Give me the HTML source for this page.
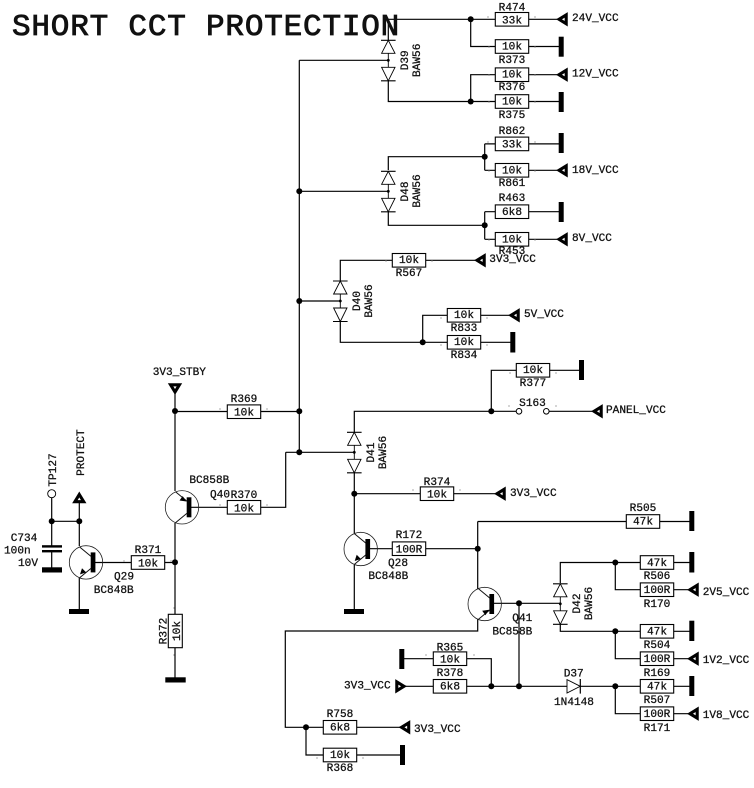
<!DOCTYPE html>
<html><head><meta charset="utf-8"><style>
html,body{margin:0;padding:0;background:#fff}
svg{display:block}
text{font-family:"Liberation Mono",monospace;font-size:11.1px;fill:#111;stroke:#111;stroke-width:.28}
.m{text-anchor:middle}
.w{fill:none;stroke:#000;stroke-width:1.2}
</style></head><body>
<svg xmlns="http://www.w3.org/2000/svg" width="754" height="788" viewBox="0 0 754 788">
<defs>
<rect id="r" x="0" y="-6.8" width="33.4" height="13.6" fill="#fff" stroke="#000" stroke-width="1.1"/>
<polygon id="al" points="3,0 10.2,-4.4 10.2,4.4" fill="#fff" stroke="#000" stroke-width="3.1"/>
<g id="d" fill="#fff" stroke="#000" stroke-width=".9">
<path d="M0-20V20.5"/>
<path d="M-7.3-20H7.3M-7.3 20.5H7.3" stroke-width="1.1"/>
<polygon points="0,-20 -6.7,-7 6.7,-7"/>
<polygon points="0,20.5 -6.7,7 6.7,7"/>
<circle cx="0" cy="0" r="1" fill="#000"/>
</g>
<g id="npn">
<circle r="16.7" fill="none" stroke="#222" stroke-width=".8"/>
<rect x="4.7" y="-10" width="4.7" height="20" fill="#000"/>
<path d="M-6.5-15.5L5-6M-6.5 15.5L5 6" fill="none" stroke="#111" stroke-width="1"/>
<polygon points="-6,12 -4,5.8 0.2,10" fill="#000"/>
</g>
<g id="pnp">
<circle r="16.7" fill="none" stroke="#222" stroke-width=".8"/>
<rect x="4.7" y="-10" width="4.7" height="20" fill="#000"/>
<path d="M-6.5-15.5L5-6M-6.5 15.5L5 6" fill="none" stroke="#111" stroke-width="1"/>
<polygon points="4.5,5.8 -2.5,6.8 0.7,11.2" fill="#000"/>
</g>
</defs>

<!-- wires -->
<path class="w" d="M388.3 19.3H557M528.7 19.3H557M470.7 19.3V46.5H495M528.7 46.5H559
M299.3 60.3H388.3M388.3 19.3V40M388.3 81V101.5H495M528.7 101.5H559M470.7 101.5V74.7H495M528.7 74.7H557
M299.3 60.3V452.3M299.3 191.3H388.3
M388.3 170V156.7H484.7M484.7 143.9V170.3M484.7 143.9H495M484.7 170.3H495M528.7 143.9H559M528.7 170.3H557
M388.3 211V225.3H484.7M484.7 211.7V239.3M484.7 211.7H495M484.7 239.3H495M528.7 211.7H559M528.7 239.3H557
M340.3 281V260.3H392M425.7 260.3H475
M299.3 301H340.3M340.3 321V342.3H447M422.7 342.3V315.3H447M480.7 315.3H509M480.7 342.3H511
M491.3 411.3V370.3H516M549.7 370.3H580
M354.3 432V411.3H516M549 411.3H592
M260.7 411.5H299.3
M354.3 473V533
M285.7 452.3H354.3M285.7 452.3V507.3H260.7
M354.3 493.7H420M453.7 493.7H495
M354.3 565V611
M370 548.7H392M425.7 548.7H477.7
M477.7 521.5H626M659.7 521.5H690M477.7 521.5V589
M477.7 619V631H285.3V727.3H323M356.7 727.3H400
M306 727.3V755H323M356.7 755H401
M492 603.3H560.3M519 603.3V686.3
M560.3 583V562.5H640M673.7 562.5H690M615.3 562.5V589.7H640M673.7 589.7H688
M560.3 624V631.3H640M673.7 631.3H690M615.3 631.3V658.7H640M673.7 658.7H688
M466.7 686.3H640M673.7 686.3H690M615.3 686.3V713.7H640M673.7 713.7H688
M404 658.7H433M466.7 658.7H491.3V686.3
M405 686.3H433
M175 394V491M175 523V678M175 411.5H227
M190 507.3H227
M95 562.5H131M164.7 562.5H175
M79.3 503V546M79.3 578V610M51.7 498V546M51.7 551V568M51.7 521.3H79.3"/>

<!-- ground bars -->
<g fill="#000">
<rect x="558.7" y="36.7" width="5" height="20"/>
<rect x="558.7" y="92" width="5" height="20"/>
<rect x="558.7" y="133" width="5" height="20"/>
<rect x="558.7" y="202" width="5" height="20"/>
<rect x="510.3" y="332" width="5" height="20.5"/>
<rect x="579" y="360" width="5" height="20"/>
<rect x="689.3" y="511" width="5" height="20"/>
<rect x="689.3" y="552" width="5" height="20.5"/>
<rect x="689.3" y="620.7" width="5" height="20.3"/>
<rect x="689.3" y="676" width="5" height="20"/>
<rect x="399.3" y="649" width="5" height="20"/>
<rect x="400" y="745" width="5" height="20"/>
<rect x="344" y="609" width="20" height="5"/>
<rect x="165.3" y="677.3" width="20.4" height="5.2"/>
<rect x="69" y="609" width="20" height="5"/>
<rect x="42" y="567.3" width="20" height="5.2"/>
<rect x="42" y="545.2" width="20" height="2.4"/>
<rect x="42" y="550" width="20" height="2.4"/>
</g>

<!-- junctions -->
<g fill="#000">
<circle cx="470.7" cy="19.3" r="3"/><circle cx="470.7" cy="101.5" r="3"/>
<circle cx="484.7" cy="156.7" r="3"/><circle cx="484.7" cy="225.3" r="3"/>
<circle cx="299.3" cy="191.3" r="3"/><circle cx="299.3" cy="301" r="3"/>
<circle cx="299.3" cy="411.3" r="3"/><circle cx="299.3" cy="452.3" r="3"/>
<circle cx="422.7" cy="342.3" r="3"/><circle cx="491.3" cy="411.3" r="3"/>
<circle cx="354.3" cy="493.7" r="3"/><circle cx="477.7" cy="548.7" r="3"/>
<circle cx="519" cy="603.3" r="3"/><circle cx="615.3" cy="562.5" r="3"/>
<circle cx="615.3" cy="631.3" r="3"/><circle cx="615.3" cy="686.3" r="3"/>
<circle cx="491.3" cy="686.3" r="3"/><circle cx="519" cy="686.3" r="3"/>
<circle cx="306" cy="727.3" r="3"/><circle cx="175" cy="411" r="3"/>
<circle cx="175" cy="562.3" r="3"/><circle cx="51.7" cy="521.3" r="3"/>
<circle cx="79.3" cy="521.3" r="3"/>
</g>

<!-- switch & test point -->
<circle cx="519" cy="411.3" r="2.8" fill="#fff" stroke="#000"/>
<circle cx="546.3" cy="411.3" r="2.8" fill="#fff" stroke="#000"/>
<circle cx="51.7" cy="493.7" r="4" fill="#fff" stroke="#000" stroke-width=".9"/>

<!-- diodes -->
<use href="#d" x="388.3" y="60.3"/>
<use href="#d" x="388.3" y="191.3"/>
<use href="#d" x="340.3" y="301"/>
<use href="#d" x="354.3" y="452.3"/>
<use href="#d" x="560.3" y="603.8"/>
<g fill="#fff" stroke="#000" stroke-width=".9"><polygon points="580.3,686.3 567,679.6 567,693"/><path d="M580.3 679V693.6" stroke-width="1.2"/></g>

<!-- transistors -->
<use href="#npn" x="86" y="562.4"/>
<use href="#npn" x="360.7" y="549"/>
<use href="#pnp" x="484.7" y="604"/>
<g transform="translate(182 507.3) scale(1 -1)"><use href="#pnp"/></g>

<!-- arrows -->
<use href="#al" x="556" y="19.3"/><use href="#al" x="556" y="74.7"/>
<use href="#al" x="556" y="170.3"/><use href="#al" x="556" y="239.3"/>
<use href="#al" x="474" y="260.3"/><use href="#al" x="508" y="315.3"/>
<use href="#al" x="591" y="411.3"/><use href="#al" x="494" y="493.7"/>
<use href="#al" x="687" y="589.7"/><use href="#al" x="687" y="658.7"/>
<use href="#al" x="687" y="713.7"/><use href="#al" x="398.5" y="727.3"/>
<g transform="translate(407 686.3) scale(-1 1)"><use href="#al"/></g>
<g transform="translate(175 395) rotate(-90)"><use href="#al"/></g>
<g transform="translate(79.3 491.5) rotate(90)"><use href="#al"/></g>

<!-- resistors -->
<g transform="translate(495.3 19.3)"><use href="#r"/><text class="m" x="16.7" y="4.2">33k</text></g>
<g transform="translate(495.3 46.5)"><use href="#r"/><text class="m" x="16.7" y="3">10k</text></g>
<g transform="translate(495.3 74.7)"><use href="#r"/><text class="m" x="16.7" y="3">10k</text></g>
<g transform="translate(495.3 101.5)"><use href="#r"/><text class="m" x="16.7" y="3">10k</text></g>
<g transform="translate(495.3 143.9)"><use href="#r"/><text class="m" x="16.7" y="3.6">33k</text></g>
<g transform="translate(495.3 170.3)"><use href="#r"/><text class="m" x="16.7" y="3">10k</text></g>
<g transform="translate(495.3 211.7)"><use href="#r"/><text class="m" x="16.7" y="3.4">6k8</text></g>
<g transform="translate(495.3 239.3)"><use href="#r"/><text class="m" x="16.7" y="3">10k</text></g>
<g transform="translate(392.3 260.3)"><use href="#r"/><text class="m" x="16.7" y="2.8">10k</text></g>
<g transform="translate(447.3 315.3)"><use href="#r"/><text class="m" x="16.7" y="2.8">10k</text></g>
<g transform="translate(447.3 342.3)"><use href="#r"/><text class="m" x="16.7" y="2.8">10k</text></g>
<g transform="translate(516.3 370.3)"><use href="#r"/><text class="m" x="16.7" y="2.8">10k</text></g>
<g transform="translate(227.3 411.7)"><use href="#r"/><text class="m" x="16.7" y="4">10k</text></g>
<g transform="translate(227.3 507.3)"><use href="#r"/><text class="m" x="16.7" y="4">10k</text></g>
<g transform="translate(131.3 562.5)"><use href="#r"/><text class="m" x="16.7" y="4">10k</text></g>
<g transform="translate(420.3 493.7)"><use href="#r"/><text class="m" x="16.7" y="4">10k</text></g>
<g transform="translate(392.3 548.7)"><use href="#r"/><text class="m" x="16.7" y="3.6">100R</text></g>
<g transform="translate(626.3 521.5)"><use href="#r"/><text class="m" x="16.7" y="3">47k</text></g>
<g transform="translate(640.3 562.5)"><use href="#r"/><text class="m" x="16.7" y="3.4">47k</text></g>
<g transform="translate(640.3 589.7)"><use href="#r"/><text class="m" x="16.7" y="3.4">100R</text></g>
<g transform="translate(640.3 631.3)"><use href="#r"/><text class="m" x="16.7" y="3">47k</text></g>
<g transform="translate(640.3 658.7)"><use href="#r"/><text class="m" x="16.7" y="3.4">100R</text></g>
<g transform="translate(640.3 686.3)"><use href="#r"/><text class="m" x="16.7" y="3">47k</text></g>
<g transform="translate(640.3 713.7)"><use href="#r"/><text class="m" x="16.7" y="3.4">100R</text></g>
<g transform="translate(433.3 658.7)"><use href="#r"/><text class="m" x="16.7" y="3.6">10k</text></g>
<g transform="translate(433.3 686.3)"><use href="#r"/><text class="m" x="16.7" y="3.2">6k8</text></g>
<g transform="translate(323.3 727.3)"><use href="#r"/><text class="m" x="16.7" y="3.4">6k8</text></g>
<g transform="translate(323.3 755)"><use href="#r"/><text class="m" x="16.7" y="2.8">10k</text></g>
<g transform="translate(175.3 631) rotate(-90)"><rect x="-16.7" y="-7" width="33.4" height="14" fill="#fff" stroke="#000" stroke-width="1.1"/><text class="m" x="0" y="4.8">10k</text></g>

<!-- pin marks -->
<path fill="none" stroke="#888" stroke-width=".7" d="M488 16v2M535 16v2M489 46v2M535 46v2M489 74v2M535 74v2M489 101v2M535 101v2M488 141v2M535 141v2M489 170v2M535 170v2M489 239v2M535 239v2M386 260v2M432 260v2M441 317v2M487 317v2M441 344v2M487 344v2M510 372v2M556 372v2M220 408v2M267 408v2M220 504v2M267 504v2M124 560v2M171 560v2M413 489v2M460 489v2M509 405v2M556 405v2M174 607v2M174 654v2M426 654v2M474 654v2M317 757v2M363 757v2"/>

<!-- labels -->
<text x="12" y="35" style="font-size:31px;letter-spacing:.8px;stroke-width:.85">SHORT CCT PROTECTION</text>

<text class="m" x="512" y="10.5">R474</text>
<text class="m" x="512" y="63">R373</text>
<text class="m" x="512" y="90">R376</text>
<text class="m" x="512" y="118">R375</text>
<text class="m" x="512" y="134">R862</text>
<text class="m" x="512" y="186">R861</text>
<text class="m" x="512" y="201">R463</text>
<text class="m" x="512" y="254">R453</text>
<text class="m" x="409" y="276">R567</text>
<text class="m" x="464" y="331">R833</text>
<text class="m" x="464" y="358">R834</text>
<text class="m" x="533" y="386">R377</text>
<text class="m" x="532.5" y="406">S163</text>
<text class="m" x="437" y="485">R374</text>
<text class="m" x="244" y="402">R369</text>
<text class="m" x="244" y="498">R370</text>
<text class="m" x="148" y="553">R371</text>
<text class="m" x="409" y="538">R172</text>
<text class="m" x="643" y="511">R505</text>
<text class="m" x="657" y="579">R506</text>
<text class="m" x="657" y="607">R170</text>
<text class="m" x="657" y="648">R504</text>
<text class="m" x="657" y="676">R169</text>
<text class="m" x="657" y="703">R507</text>
<text class="m" x="657" y="731">R171</text>
<text class="m" x="450" y="650.5">R365</text>
<text class="m" x="450" y="676">R378</text>
<text class="m" x="340" y="717">R758</text>
<text class="m" x="340" y="771">R368</text>
<text transform="translate(166.5 631) rotate(-90)" class="m">R372</text>

<text x="572" y="21">24V_VCC</text>
<text x="572" y="76.5">12V_VCC</text>
<text x="572" y="173">18V_VCC</text>
<text x="572" y="241">8V_VCC</text>
<text x="489.3" y="262">3V3_VCC</text>
<text x="524" y="317">5V_VCC</text>
<text x="606" y="413">PANEL_VCC</text>
<text x="510" y="496">3V3_VCC</text>
<text x="702.7" y="595">2V5_VCC</text>
<text x="702.7" y="663">1V2_VCC</text>
<text x="702.7" y="718">1V8_VCC</text>
<text x="344" y="688.5">3V3_VCC</text>
<text x="414" y="732">3V3_VCC</text>
<text x="152.7" y="375">3V3_STBY</text>

<text class="m" transform="translate(408 60.3) rotate(-90)">D39</text>
<text class="m" transform="translate(420 60.3) rotate(-90)">BAW56</text>
<text class="m" transform="translate(408 191.5) rotate(-90)">D48</text>
<text class="m" transform="translate(420 191) rotate(-90)">BAW56</text>
<text class="m" transform="translate(360 301) rotate(-90)">D40</text>
<text class="m" transform="translate(372 301) rotate(-90)">BAW56</text>
<text class="m" transform="translate(374 452.5) rotate(-90)">D41</text>
<text class="m" transform="translate(386 452.5) rotate(-90)">BAW56</text>
<text class="m" transform="translate(580 603.5) rotate(-90)">D42</text>
<text class="m" transform="translate(592 603.5) rotate(-90)">BAW56</text>
<text class="m" x="573.7" y="676.5">D37</text>
<text class="m" x="574" y="705">1N4148</text>

<text class="m" x="209.3" y="483">BC858B</text>
<text class="m" x="220" y="497.5">Q40</text>
<text class="m" x="124" y="579.5">Q29</text>
<text class="m" x="113.7" y="593">BC848B</text>
<text class="m" x="398" y="566">Q28</text>
<text class="m" x="388.3" y="579">BC848B</text>
<text class="m" x="522.3" y="621">Q41</text>
<text class="m" x="512.3" y="634.5">BC858B</text>

<text class="m" transform="translate(56 470) rotate(-90)">TP127</text>
<text class="m" transform="translate(84 452.6) rotate(-90)">PROTECT</text>
<text x="10.7" y="541">C734</text>
<text x="4" y="553.5">100n</text>
<text x="18" y="566">10V</text>
</svg>
</body></html>
